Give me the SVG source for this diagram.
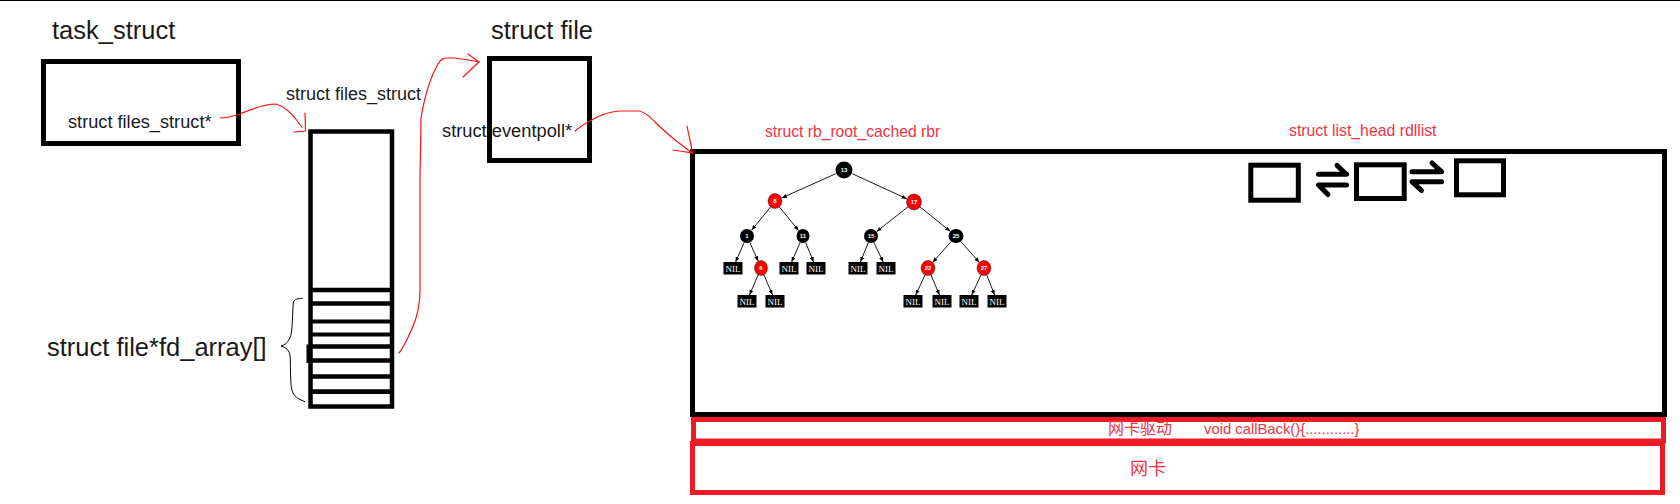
<svg xmlns="http://www.w3.org/2000/svg" width="1680" height="504" viewBox="0 0 1680 504">
<style>
.box{fill:none;stroke:#000;stroke-width:5}
.rbox{fill:none;stroke:#ED1C24;stroke-width:5}
.lbl{font-family:"Liberation Sans",Arial,sans-serif;fill:#1a1a1a}
.rlbl{font-family:"Liberation Sans",Arial,sans-serif;fill:#EE3342}
.cjk{font-family:"Liberation Sans","Noto Sans CJK SC",sans-serif;fill:#EE3342}
.pen{fill:none;stroke:#FF1010;stroke-width:1.2;stroke-linejoin:round;stroke-linecap:round}
.edge{stroke:#000;stroke-width:0.9;marker-end:url(#ah)}
.blk{fill:#000}
.red{fill:#FF0000;stroke:#000;stroke-width:0.4}
.num{font-family:"Liberation Sans",Arial,sans-serif;font-size:6px;font-weight:bold;fill:#fff;text-anchor:middle}
.nil rect{fill:#000}
.nil text{font-family:"Liberation Serif","Times New Roman",serif;font-size:9px;fill:#fff;text-anchor:middle}
.harp{fill:none;stroke:#000;stroke-width:5;stroke-linecap:round;stroke-linejoin:round}
</style>
<defs>
<marker id="ah" markerWidth="5" markerHeight="4" refX="5" refY="2" orient="auto" markerUnits="userSpaceOnUse">
<path d="M0,0 L5,2 L0,4 Z" fill="#000"/>
</marker>
</defs>
<rect width="1680" height="504" fill="#fff"/>
<line x1="0" y1="0.5" x2="1680" y2="0.5" stroke="#000" stroke-width="1"/>

<g id="task_struct">
<text class="lbl" x="52" y="39" font-size="25.5">task_struct</text>
<rect class="box" x="43.5" y="61.5" width="195" height="82"/>
<text class="lbl" x="68" y="128" font-size="18.2">struct files_struct*</text>
</g>

<g id="files_struct">
<text class="lbl" x="286" y="100" font-size="18">struct files_struct</text>
<rect class="box" x="310.5" y="131.5" width="81.5" height="275" style="stroke-width:4.5"/>
<g stroke="#000" stroke-width="4.5">
<line x1="310" y1="290" x2="392" y2="290"/>
<line x1="310" y1="303.5" x2="392" y2="303.5"/>
<line x1="310" y1="321.5" x2="392" y2="321.5" stroke-width="4"/>
<line x1="310" y1="334.5" x2="392" y2="334.5" stroke-width="4"/>
<line x1="310" y1="346.5" x2="392" y2="346.5"/>
<line x1="310" y1="360.5" x2="392" y2="360.5"/>
<line x1="310" y1="376.5" x2="392" y2="376.5"/>
<line x1="310" y1="391.7" x2="392" y2="391.7" stroke-width="4.7"/>
</g>
<rect x="306.5" y="344.5" width="4" height="18.5" fill="#000"/>
<path d="M302.7,298.3 C296,298.5 293.5,300 293.3,303 C292.5,315 292.5,322 291.7,330 C291,338 288,344 281,346 C288,348 290,352 290.3,358 C290.5,372 290.5,382 291.5,388 C292.5,394 295,398 305,401.7" fill="none" stroke="#000" stroke-width="1"/>
<text class="lbl" x="47" y="356" font-size="25.5">struct file*fd_array[]</text>
</g>

<g id="struct_file">
<text class="lbl" x="491" y="39" font-size="25.5">struct file</text>
<rect class="box" x="489.5" y="58.5" width="100" height="102"/>
<text class="lbl" x="442" y="137" font-size="18.3">struct eventpoll*</text>
</g>

<g id="eventpoll">
<rect class="box" x="692.5" y="151.5" width="972" height="263"/>
<text class="rlbl" x="765" y="137" font-size="15.7">struct rb_root_cached rbr</text>
<text class="rlbl" x="1289" y="135.5" font-size="15.8">struct list_head rdllist</text>
</g>

<g id="rbtree">
<g id="n13"><circle class="blk" cx="844" cy="170" r="8.5"/><text class="num" x="844" y="172.2">13</text></g>
<g id="n8"><ellipse class="red" cx="775" cy="201" rx="7" ry="7.5"/><text class="num" x="775" y="203.2">8</text></g>
<g id="n17"><ellipse class="red" cx="914" cy="202" rx="7.5" ry="8"/><text class="num" x="914" y="204.2">17</text></g>
<g id="n1"><ellipse class="blk" cx="747" cy="236" rx="7" ry="7"/><text class="num" x="747" y="238.2">1</text></g>
<g id="n11"><ellipse class="blk" cx="803" cy="236" rx="6.5" ry="7"/><text class="num" x="803" y="238.2">11</text></g>
<g id="n15"><ellipse class="blk" cx="871" cy="236" rx="7" ry="7"/><text class="num" x="871" y="238.2">15</text></g>
<g id="n25"><ellipse class="blk" cx="956" cy="236" rx="7.5" ry="7"/><text class="num" x="956" y="238.2">25</text></g>
<g id="n6"><ellipse class="red" cx="761" cy="268" rx="6.5" ry="7.5"/><text class="num" x="761" y="270.2">6</text></g>
<g id="n22"><ellipse class="red" cx="928" cy="268" rx="7" ry="7.5"/><text class="num" x="928" y="270.2">22</text></g>
<g id="n27"><ellipse class="red" cx="984" cy="268" rx="7" ry="7.5"/><text class="num" x="984" y="270.2">27</text></g>
<g class="nil" id="nil1"><rect x="723.5" y="262" width="19" height="12.5"/><text x="733" y="271.5">NIL</text></g>
<g class="nil" id="nil2"><rect x="779.5" y="262" width="19" height="12.5"/><text x="789" y="271.5">NIL</text></g>
<g class="nil" id="nil3"><rect x="806.5" y="262" width="19" height="12.5"/><text x="816" y="271.5">NIL</text></g>
<g class="nil" id="nil4"><rect x="848.5" y="262" width="19" height="12.5"/><text x="858" y="271.5">NIL</text></g>
<g class="nil" id="nil5"><rect x="876.5" y="262" width="19" height="12.5"/><text x="886" y="271.5">NIL</text></g>
<g class="nil" id="nil6"><rect x="737.5" y="295" width="19" height="12.5"/><text x="747" y="304.5">NIL</text></g>
<g class="nil" id="nil7"><rect x="765.5" y="295" width="19" height="12.5"/><text x="775" y="304.5">NIL</text></g>
<g class="nil" id="nil8"><rect x="903.5" y="295" width="19" height="12.5"/><text x="913" y="304.5">NIL</text></g>
<g class="nil" id="nil9"><rect x="932.5" y="295" width="19" height="12.5"/><text x="942" y="304.5">NIL</text></g>
<g class="nil" id="nil10"><rect x="959.5" y="295" width="19" height="12.5"/><text x="969" y="304.5">NIL</text></g>
<g class="nil" id="nil11"><rect x="987.5" y="295" width="19" height="12.5"/><text x="997" y="304.5">NIL</text></g>
</g>

<g id="list_nodes">
<rect class="box" x="1250.8" y="165.2" width="47.5" height="35"/>
<rect class="box" x="1356.5" y="164.8" width="47.7" height="33.7"/>
<rect class="box" x="1456.5" y="160.8" width="47" height="34"/>
</g>

<g id="nic_driver">
<rect class="rbox" x="693.5" y="419.5" width="970" height="21.5"/>
<text class="cjk" y="434"><tspan x="1108" font-size="16" font-family="'Noto Sans CJK SC',sans-serif">网卡驱动</tspan><tspan x="1204" font-size="14.8" font-family="'Liberation Sans',Arial,sans-serif">void callBack(){............}</tspan></text>
</g>

<g id="nic">
<rect class="rbox" x="692.5" y="443.5" width="970" height="49"/>
<text class="cjk" x="1130" y="475" font-size="18" font-family="'Noto Sans CJK SC',sans-serif">网卡</text>
</g>

<g id="connectors">
<path class="pen" d="M220,118 C228,118 234,116 240,114 C250,110 262,104 276,104 C284,106 290,112 295,118 C298,122 300,125 302,127"/>
<path class="pen" d="M305,113 L305.5,131 L294,132"/>
<path class="pen" d="M399,353 C404,347 412,330 416,318 C419,308 420,300 420,290 L420,180 L421,118 C424,100 430,78 438,64 C441,59 443,58 448,58 L454,58 C462,59 470,60 479,62"/>
<path class="pen" d="M468,54 L479,62 L463,77"/>
<path class="pen" d="M575,131 C580,127 584,124 590,121 C598,116 606,112 620,111 L639,111 C645,112 650,117 656,123 C662,129 668,134 675,140 C682,145 688,150 692,153"/>
<path class="pen" d="M687,126 C689,136 691,144 692.5,153 L673,150"/>
<line class="edge" x1="835.8" y1="173.7" x2="781.8" y2="197.9"/>
<line class="edge" x1="852.2" y1="173.7" x2="906.7" y2="198.7"/>
<line class="edge" x1="770.6" y1="206.9" x2="751.7" y2="230.1"/>
<line class="edge" x1="779.4" y1="206.9" x2="798.6" y2="230.5"/>
<line class="edge" x1="908.1" y1="206.7" x2="876.5" y2="231.7"/>
<line class="edge" x1="919.8" y1="206.7" x2="950.2" y2="231.3"/>
<line class="edge" x1="744.2" y1="242.4" x2="735.6" y2="262"/>
<line class="edge" x1="749.8" y1="242.4" x2="758.2" y2="261.2"/>
<line class="edge" x1="800.2" y1="242.4" x2="791.6" y2="262"/>
<line class="edge" x1="805.6" y1="242.4" x2="813.6" y2="262"/>
<line class="edge" x1="868.4" y1="242.4" x2="860.4" y2="262"/>
<line class="edge" x1="873.8" y1="242.4" x2="883.2" y2="262"/>
<line class="edge" x1="951.1" y1="241.6" x2="932.6" y2="262.4"/>
<line class="edge" x1="960.9" y1="241.6" x2="979.4" y2="262.4"/>
<line class="edge" x1="758.3" y1="274.4" x2="749.5" y2="295"/>
<line class="edge" x1="763.7" y1="274.4" x2="772.5" y2="295"/>
<line class="edge" x1="925.1" y1="274.8" x2="915.7" y2="295"/>
<line class="edge" x1="930.9" y1="274.8" x2="939.5" y2="295"/>
<line class="edge" x1="981.1" y1="274.8" x2="971.7" y2="295"/>
<line class="edge" x1="986.7" y1="274.8" x2="994.6" y2="295"/>
<path class="harp" d="M1318.5,174.3 L1346.5,174.3 L1337,165.5"/>
<path class="harp" d="M1346.5,185 L1318.5,185 L1328,194.5"/>
<path class="harp" d="M1412,171.7 L1441.5,171.7 L1432,163"/>
<path class="harp" d="M1441.5,181.7 L1412,181.7 L1421.5,190.5"/>
</g>
</svg>
